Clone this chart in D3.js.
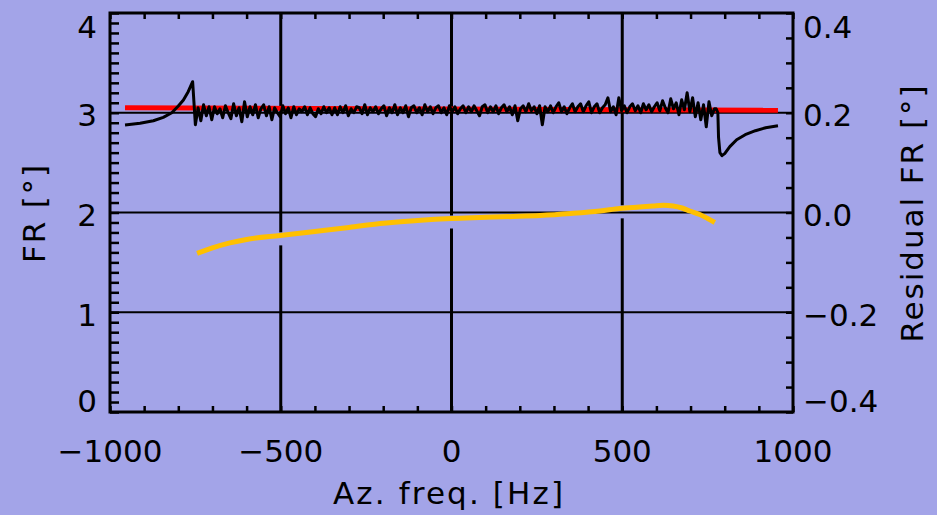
<!DOCTYPE html>
<html>
<head>
<meta charset="utf-8">
<script src="https://cdn.jsdelivr.net/npm/d3@7"></script>
<style>
  html, body { margin: 0; padding: 0; background: #a3a4e8; }
  text { font-family: "DejaVu Sans", sans-serif; font-size: 31px; fill: #000; }
  .tick line { stroke: #000; stroke-width: 2.5px; }
</style>
</head>
<body>
<div id="chart"></div>
<script>
// x ticks and y ticks
var xTickValues = [-1000, -500, 0, 500, 1000];
var xTickLabels = ["\u22121000", "\u2212500", "0", "500", "1000"];
var yTickValues = [0, 1, 2, 3, 4];
var yTickLabels = ["0", "1", "2", "3", "4"];
var y2TickValues = [-0.4, -0.2, 0.0, 0.2, 0.4];
var y2TickLabels = ["\u22120.4", "\u22120.2", "0.0", "0.2", "0.4"];

// linear fit (red), in FR [deg]
var fitFreq = [-956, 956];
var fitFR = [3.05, 3.025];

// left edge response (black)
var leftFreq = [-956, -912, -873, -844, -819, -800, -785, -771, -758];
var leftFR = [2.877, 2.894, 2.920, 2.954, 3.000, 3.067, 3.127, 3.211, 3.311];

// measured FR in the pass band, every 8 Hz from -750 Hz (black)
var noiseStart = -750, noiseStep = 8;
var noiseFR = [
  2.88, 3.05, 2.92, 3.08, 2.97, 3.06, 2.93, 3.06, 2.99, 3.04,
  2.95, 3.07, 3.00, 2.94, 3.09, 2.97, 3.05, 2.91, 3.11, 2.96,
  3.06, 2.98, 3.08, 2.95, 3.04, 3.08, 2.97, 3.06, 2.93, 3.05,
  3.00, 2.96, 3.07, 2.99, 3.05, 2.95, 3.06, 2.98, 3.04, 3.01,
  3.06, 2.98, 3.05, 2.99, 2.96, 3.04, 2.99, 3.06, 3.00, 3.05,
  2.98, 3.05, 2.98, 3.06, 3.00, 3.07, 2.97, 3.04, 3.00, 3.06,
  3.05, 2.99, 3.08, 2.98, 3.05, 3.01, 3.06, 2.99, 3.04, 3.07,
  2.97, 3.05, 3.00, 3.08, 2.98, 3.05, 3.00, 3.07, 2.96, 3.05,
  3.07, 3.00, 3.05, 2.98, 3.08, 3.01, 3.06, 2.99, 3.05, 3.07,
  3.00, 3.05, 2.98, 3.07, 3.01, 3.06, 2.99, 3.04, 3.07, 3.00,
  3.06, 3.01, 3.07, 3.02, 2.97, 3.06, 3.08, 3.00, 3.06, 3.01,
  3.07, 2.99, 3.05, 3.08, 3.01, 3.06, 2.98, 3.07, 2.92, 3.04,
  3.07, 3.01, 3.09, 3.02, 3.06, 2.99, 3.07, 2.88, 3.06, 3.01,
  3.07, 3.00, 3.06, 3.10, 3.01, 3.06, 2.99, 3.05, 3.09, 3.01,
  3.06, 3.09, 3.01, 3.07, 3.11, 3.00, 3.06, 3.09, 3.00, 3.05,
  3.08, 3.15, 3.01, 3.06, 2.98, 3.15, 3.02, 3.07, 3.00, 3.06,
  3.09, 3.02, 3.07, 3.00, 3.09, 3.03, 3.08, 3.01, 3.06, 3.10,
  3.02, 3.12, 3.05, 3.00, 3.14, 3.04, 3.10, 2.98, 3.13, 3.03,
  3.20, 3.01, 3.15, 2.96, 3.10, 2.93, 3.08, 2.86, 3.11, 2.97,
  3.04
];

// right edge response (black)
var rightFreq = [775, 780, 782, 786, 792, 800, 815, 835, 860, 890, 920, 956];
var rightFR = [3.04, 3.00, 2.75, 2.60, 2.57, 2.59, 2.66, 2.73, 2.78, 2.82, 2.85, 2.87];

// residual FR (orange), right axis
var resFreq = [-745, -700, -649, -600, -502, -400, -300, -209, -100, 0, 83, 180, 259, 350, 435, 493, 550, 590, 620, 649, 675, 698, 727, 750, 771];
var resFR = [-0.082, -0.071, -0.061, -0.054, -0.046, -0.038, -0.030, -0.022, -0.016, -0.012, -0.010, -0.008, -0.006, -0.002, 0.003, 0.008, 0.011, 0.013, 0.0145, 0.013, 0.009, 0.003, -0.004, -0.012, -0.020];

var width = 937, height = 515;
var pLeft = 110, pRight = 793, pTop = 13, pBottom = 412;

var svg = d3.select("#chart").append("svg")
    .attr("width", width)
    .attr("height", height);

svg.append("rect")
    .attr("width", width).attr("height", height)
    .attr("fill", "#a3a4e8");

var x = d3.scaleLinear().domain([-1000, 1000]).range([pLeft, pRight]);
var y = d3.scaleLinear().domain([0, 4]).range([pBottom, pTop]);
var y2 = d3.scaleLinear().domain([-0.4, 0.4]).range([pBottom, pTop]);

var resData = resFreq.map((f, i) => [f, resFR[i]]);
var resAt = d3.scaleLinear().domain(resFreq).range(resFR).clamp(true);

// grid: horizontal at 1, 2, 3
svg.append("g").selectAll("line")
    .data([1, 2, 3])
    .enter().append("line")
    .attr("x1", pLeft).attr("x2", pRight)
    .attr("y1", d => y(d)).attr("y2", d => y(d))
    .attr("stroke", "#000").attr("stroke-width", 2);

// grid: vertical at -500, 0, 500, broken around the residual curve
[-500, 0, 500].forEach(function (f) {
    var yo = y2(resAt(f));
    var g = svg.append("g");
    g.append("line")
        .attr("x1", x(f)).attr("x2", x(f))
        .attr("y1", pTop).attr("y2", yo - 3)
        .attr("stroke", "#000").attr("stroke-width", 3);
    g.append("line")
        .attr("x1", x(f)).attr("x2", x(f))
        .attr("y1", yo + 10).attr("y2", pBottom)
        .attr("stroke", "#000").attr("stroke-width", 3);
});

// minor ticks
svg.append("g")
    .attr("transform", "translate(" + pLeft + ",0)")
    .call(d3.axisRight(y).tickValues(d3.range(0, 41).map(d => d / 10)).tickSize(9).tickFormat(""))
    .call(g => g.select(".domain").remove());
svg.append("g")
    .attr("transform", "translate(" + pRight + ",0)")
    .call(d3.axisLeft(y2).tickValues(d3.range(-8, 9).map(d => d / 20)).tickSize(7).tickFormat(""))
    .call(g => g.select(".domain").remove());
svg.append("g")
    .attr("transform", "translate(0," + pBottom + ")")
    .call(d3.axisTop(x).tickValues(d3.range(-1000, 1001, 100)).tickSize(6).tickFormat(""))
    .call(g => g.select(".domain").remove());
svg.append("g")
    .attr("transform", "translate(0," + pTop + ")")
    .call(d3.axisBottom(x).tickValues(d3.range(-1000, 1001, 100)).tickSize(6).tickFormat(""))
    .call(g => g.select(".domain").remove());

var line = d3.line().x(d => x(d[0])).y(d => y(d[1]));

// red fit
svg.append("path")
    .datum(fitFreq.map((f, i) => [f, fitFR[i]]))
    .attr("d", line)
    .attr("fill", "none").attr("stroke", "#ff0000").attr("stroke-width", 5);

// black measured
var blackData = leftFreq.map((f, i) => [f, leftFR[i]])
    .concat(noiseFR.map((v, i) => [noiseStart + i * noiseStep, v]))
    .concat(rightFreq.map((f, i) => [f, rightFR[i]]));
svg.append("path")
    .datum(blackData)
    .attr("d", line)
    .attr("fill", "none").attr("stroke", "#000").attr("stroke-width", 3)
    .attr("stroke-linejoin", "round");

// orange residual
svg.append("path")
    .datum(resData)
    .attr("d", d3.line().curve(d3.curveMonotoneX).x(d => x(d[0])).y(d => y2(d[1])))
    .attr("fill", "none").attr("stroke", "#ffc000").attr("stroke-width", 5);

// frame
svg.append("rect")
    .attr("x", pLeft).attr("y", pTop)
    .attr("width", pRight - pLeft).attr("height", pBottom - pTop)
    .attr("fill", "none").attr("stroke", "#000").attr("stroke-width", 3);

// tick labels
function labelY(py) { return Math.max(26, Math.min(400, py + 2)) + 11.5; }

svg.append("g").selectAll("text")
    .data(xTickValues)
    .enter().append("text")
    .attr("x", d => x(d)).attr("y", 462)
    .attr("text-anchor", "middle")
    .text((d, i) => xTickLabels[i]);

svg.append("g").selectAll("text")
    .data(yTickValues)
    .enter().append("text")
    .attr("x", 97).attr("y", d => labelY(y(d)))
    .attr("text-anchor", "end")
    .text((d, i) => yTickLabels[i]);

svg.append("g").selectAll("text")
    .data(y2TickValues)
    .enter().append("text")
    .attr("x", 803).attr("y", d => labelY(y2(d)))
    .attr("text-anchor", "start")
    .text((d, i) => y2TickLabels[i]);

// axis titles
svg.append("text")
    .attr("x", 448).attr("y", 504)
    .attr("text-anchor", "middle")
    .attr("textLength", 230).attr("lengthAdjust", "spacing")
    .text("Az. freq. [Hz]");

svg.append("text")
    .attr("transform", "translate(45,214) rotate(-90)")
    .attr("text-anchor", "middle")
    .attr("textLength", 98).attr("lengthAdjust", "spacing")
    .text("FR [\u00b0]");

svg.append("text")
    .attr("transform", "translate(923,214) rotate(-90)")
    .attr("text-anchor", "middle")
    .attr("textLength", 257).attr("lengthAdjust", "spacing")
    .text("Residual FR [\u00b0]");
</script>
</body>
</html>
